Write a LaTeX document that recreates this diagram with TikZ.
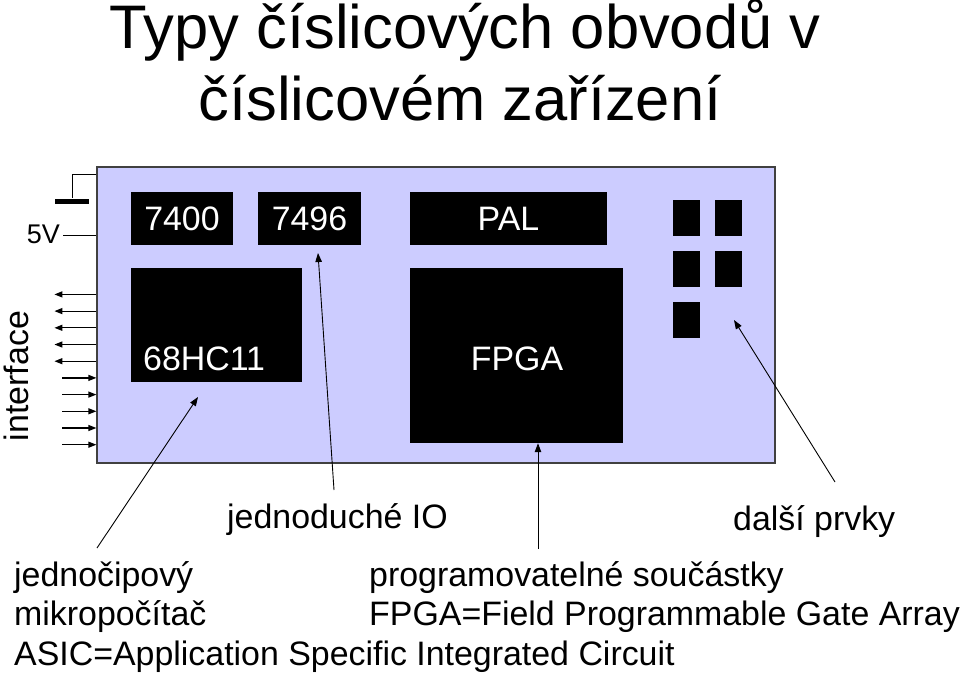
\documentclass[tikz,border=0pt]{standalone}
\usepackage{fontspec}
\setmainfont{Liberation Sans}
\usetikzlibrary{arrows.meta}

\definecolor{boardblue}{RGB}{204,204,255}
\newcommand{\bigtxt}{\fontsize{61.5}{70}\selectfont}
\newcommand{\midtxt}{\fontsize{33.9}{40}\selectfont}
\newcommand{\smalltxt}{\fontsize{27}{32}\selectfont}

\tikzset{
  board/.style={draw=black!75, fill=boardblue, line width=1.2pt, inner sep=0pt},
  chip/.style={fill=black, text=white, inner sep=0pt, font=\midtxt},
  chiptext/.style={text=white, font=\midtxt, inner sep=0pt},
  lbl/.style={font=\midtxt, inner sep=0pt, anchor=base west},
  wire/.style={line width=1pt},
  iface/.style={line width=1.2pt, -{Triangle[length=8pt,width=6pt]}},
  pointer/.style={line width=0.9pt, -{Triangle[length=9pt,width=6.5pt]}}
}

\begin{document}
\begin{tikzpicture}[x=1pt,y=-1pt]
\useasboundingbox (0,0) rectangle (960,675);

% title
\node[font=\bigtxt, inner sep=0pt, anchor=base] (title1) at (465,48) {Typy číslicových obvodů v};
\node[font=\bigtxt, inner sep=0pt, anchor=base] (title2) at (460,120) {číslicovém zařízení};

% board and chips
\node[board, minimum width=678pt, minimum height=296pt] (board) at (436,315) {};
\node[chip, minimum width=102pt, minimum height=53pt] (c7400) at (182,218.5) {7400};
\node[chip, minimum width=103pt, minimum height=53pt] (c7496) at (309.5,218.5) {7496};
\node[chip, minimum width=197pt, minimum height=53pt] (pal) at (508.5,218.5) {PAL};
\node[chip, minimum width=171pt, minimum height=114pt] (mcu) at (216.5,325) {};
\node[chiptext, anchor=base west] (mcutext) at (143,370) {68HC11};
\node[chip, minimum width=213pt, minimum height=175pt] (fpga) at (516.5,355.5) {};
\node[chiptext, anchor=base] (fpgatext) at (517,370) {FPGA};
\foreach \i/\x/\y in {1/686.5/218, 2/728.5/218, 3/686.5/269, 4/728.5/269, 5/686.5/319.5}
  \node[chip, minimum width=27pt, minimum height=36pt] (sq\i) at (\x,\y) {};

% power and ground
\node[fill=black, minimum width=34pt, minimum height=5pt, inner sep=0pt] (gnd) at (72,201) {};
\draw[wire] ([yshift=-8pt]board.north west) -| (gnd.north);
\node[font=\smalltxt, inner sep=0pt, anchor=base east] (vcc) at (60,243) {5V};
\coordinate (vccend) at (63,235);
\draw[wire] (vccend) -- (vccend -| board.west);

% interface lines
\foreach \k in {0,...,4} {
  \draw[iface] ([yshift={-128pt-16.7pt*\k}]board.north west) -- ++(-42,0);
  \draw[iface] ([yshift={-211.5pt-16.7pt*\k}]board.north west) ++(-34,0) -- ++(34,0);
}
\node[font=\midtxt, inner sep=0pt, rotate=90, anchor=base] (iftext) at (28,376) {interface};

% labels
\node[lbl] (io) at (227,528) {jednoduché IO};
\node[lbl] (more) at (733,530) {další prvky};
\node[lbl] (single) at (14,586) {jednočipový};
\node[lbl] (mcu2) at (14,625) {mikropočítač};
\node[lbl] (prog) at (369,586) {programovatelné součástky};
\node[lbl] (fpgadef) at (369,625) {FPGA=Field Programmable Gate Array};
\node[lbl] (asic) at (14,665) {ASIC=Application Specific Integrated Circuit};

% pointers
\coordinate (mcutail) at (97,548);
\coordinate (mcutip) at (198,397);
\coordinate (iotail) at (334,490);
\coordinate (iotip) at (318,253);
\coordinate (progtail) at (538,549);
\coordinate (moretail) at (835,482);
\coordinate (moretip) at (734,320);
\draw[pointer] (mcutail) -- (mcutip);
\draw[pointer] (iotail) -- (iotip);
\draw[pointer] (progtail) -- (progtail |- fpga.south);
\draw[pointer] (moretail) -- (moretip);
\end{tikzpicture}
\end{document}
